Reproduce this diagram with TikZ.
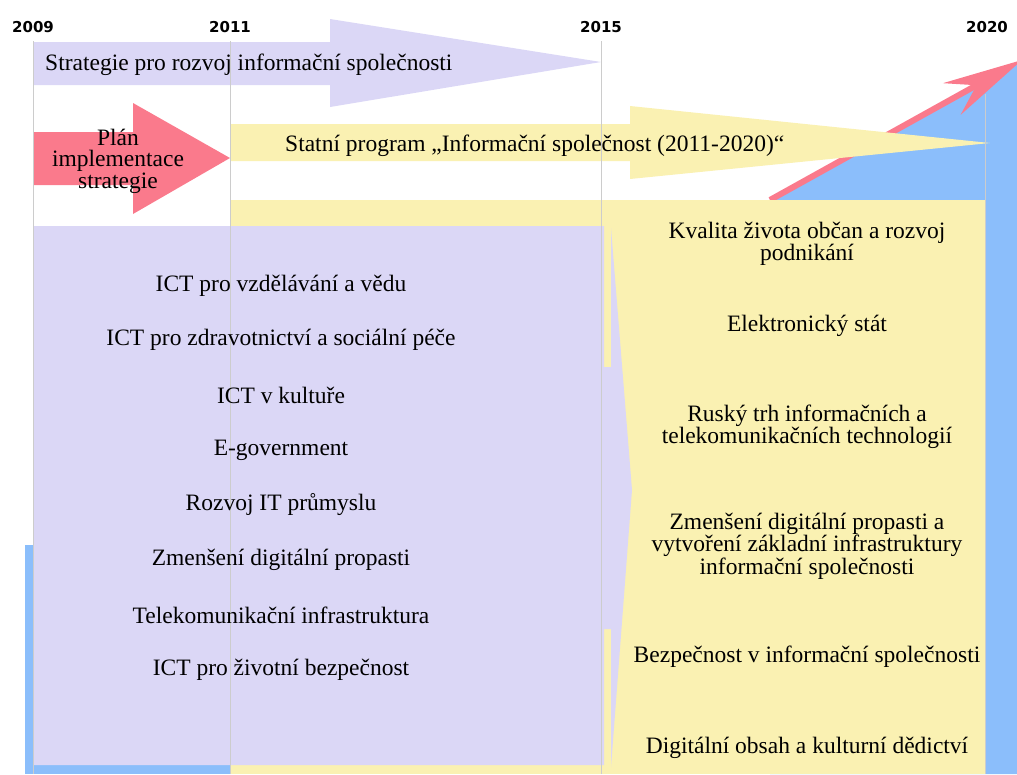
\documentclass[tikz,border=0pt]{standalone}
\usepackage{fontspec}
\setmainfont{Liberation Serif}
\newfontfamily\rokfont{DejaVu Sans}
\usetikzlibrary{positioning,arrows.meta}
\definecolor{lila}{HTML}{DBD7F6}
\definecolor{zluta}{HTML}{FAF1B2}
\definecolor{ruzova}{HTML}{FA7A8C}
\definecolor{modra}{HTML}{8BBEFB}
\definecolor{mrizka}{HTML}{CCCCCC}

\begin{document}
\begin{tikzpicture}[x=1pt,y=-1pt,
  rok/.style={font=\rokfont\fontsize{15}{15}\selectfont\bfseries,inner sep=0pt},
  polozka/.style={font=\fontsize{23.5}{19}\selectfont,align=center,inner sep=0pt,yshift=-3pt},
  mrizka/.style={draw=mrizka,line width=1pt}]
\useasboundingbox (0,0) rectangle (1017,774);
% background areas: blue growth, yellow programme block
\fill[modra] (770,200) -- (1017,62) -- (1017,774) -- (770,774) -- cycle;
\fill[modra] (25,545) rectangle (231,774);
\draw[ruzova,line width=6pt,-{Stealth[length=80pt,width=36pt,inset=28pt]}] (770,200) -- (1022,60);
\fill[zluta] (231,200) rectangle (985,774);
% strategy block (lavender arrow with a thin head)
\fill[lila] (33,226) -- (604,226) -- (604,367) -- (611,367) -- (611,228) -- (632,490)
  -- (611,767) -- (611,629) -- (604,629) -- (604,765) -- (33,765) -- cycle;
% top arrows
\fill[lila] (33,42) -- (330,42) -- (330,19) -- (601,62) -- (330,107) -- (330,85) -- (33,85) -- cycle;
\fill[ruzova] (33,132) -- (133,132) -- (133,103) -- (230,158) -- (133,214) -- (133,185) -- (33,185) -- cycle;
\fill[zluta] (231,124) -- (630,124) -- (630,106) -- (990,143) -- (630,179) -- (630,161) -- (231,161) -- cycle;
% year grid
\node[rok] (r2009) at (33,27) {2009};
\node[rok] (r2011) at (230,27) {2011};
\node[rok] (r2015) at (601,27) {2015};
\node[rok] (r2020) at (987,27) {2020};
\draw[mrizka] (33,41) -- (33,774);
\draw[mrizka] (230,41) -- (230,774);
\draw[mrizka] (601,41) -- (601,774);
\draw[mrizka] (985,94) -- (985,774);
% labels of the arrows
\node[polozka,font=\fontsize{23.5}{21.5}\selectfont,anchor=west] (strategie) at (45,62) {Strategie pro rozvoj informační společnosti};
\node[polozka,font=\fontsize{23.5}{21.5}\selectfont] (plan) at (118,158) {Plán\\implementace\\strategie};
\node[polozka,anchor=west] (program) at (285,143) {Statní program „Informační společnost (2011-2020)“};
% strategy areas
\node[polozka] (s1) at (281,283) {ICT pro vzdělávání a vědu};
\node[polozka] (s2) at (281,337) {ICT pro zdravotnictví a sociální péče};
\node[polozka] (s3) at (281,392) {ICT v kultuře};
\node[polozka] (s4) at (281,447) {E-government};
\node[polozka] (s5) at (281,502) {Rozvoj IT průmyslu};
\node[polozka] (s6) at (281,557) {Zmenšení digitální propasti};
\node[polozka] (s7) at (281,612) {Telekomunikační infrastruktura};
\node[polozka] (s8) at (281,667) {ICT pro životní bezpečnost};
% programme areas
\node[polozka] (p1) at (807,241) {Kvalita života občan a rozvoj\\podnikání};
\node[polozka] (p2) at (807,323) {Elektronický stát};
\node[polozka] (p3) at (807,424) {Ruský trh informačních a\\telekomunikačních technologií};
\node[polozka] (p4) at (807,543) {Zmenšení digitální propasti a\\vytvoření základní infrastruktury\\informační společnosti};
\node[polozka] (p5) at (807,654) {Bezpečnost v informační společnosti};
\node[polozka] (p6) at (807,745) {Digitální obsah a kulturní dědictví};
\end{tikzpicture}
\end{document}
